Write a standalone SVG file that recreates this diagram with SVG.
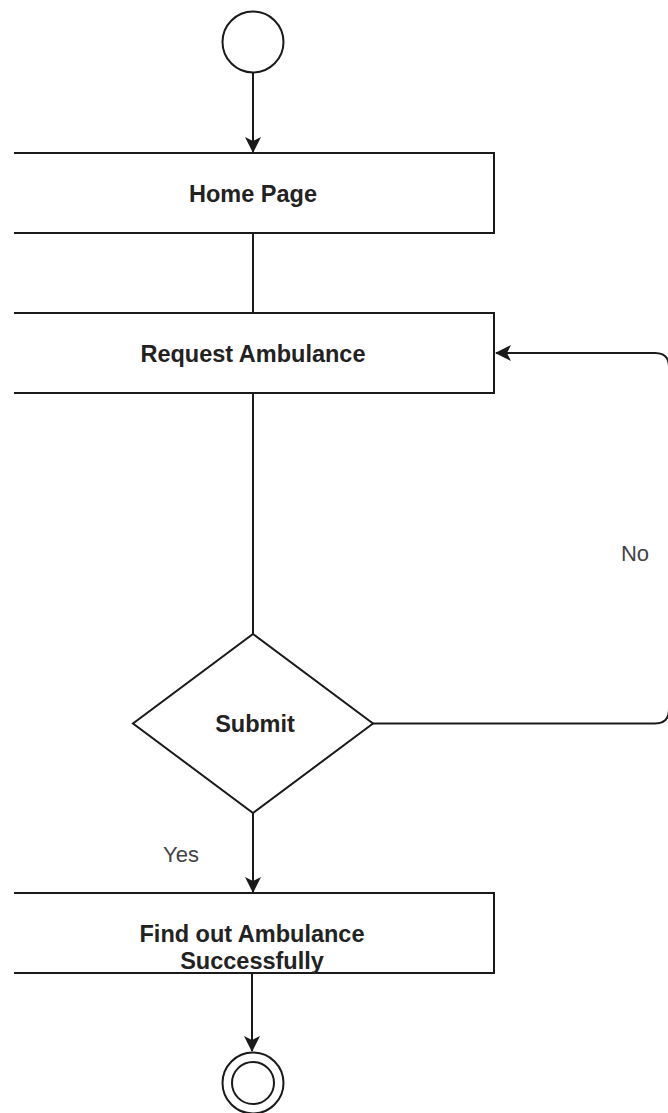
<svg xmlns="http://www.w3.org/2000/svg" width="668" height="1113" viewBox="0 0 668 1113">
<style>
.shape{fill:#ffffff;stroke:#1a1a1a;stroke-width:2}
.edge{fill:none;stroke:#1a1a1a;stroke-width:2}
.lbl{font-family:"Liberation Sans",Arial,sans-serif;font-size:23.5px;font-weight:bold;fill:#222222;text-anchor:middle}
.elbl{font-family:"Liberation Sans",Arial,sans-serif;font-size:22px;fill:#444444;text-anchor:middle}
</style>
<defs>
<marker id="arr" viewBox="0 0 16 16" refX="15" refY="8" markerWidth="16" markerHeight="16" markerUnits="userSpaceOnUse" orient="auto">
<path d="M0,0 L16,8 L0,16 L4,8 Z" fill="#1a1a1a"/>
</marker>
</defs>
<rect width="668" height="1113" fill="#ffffff"/>
<g id="connectors">
<line class="edge" x1="253" y1="73" x2="253" y2="152" marker-end="url(#arr)"/>
<line class="edge" x1="253" y1="233" x2="253" y2="313"/>
<line class="edge" x1="253" y1="393" x2="253" y2="634"/>
<path class="edge" d="M373,723.5 L655,723.5 Q669,723.5 669,709 L669,367 Q669,353 655,353 L496,353" marker-end="url(#arr)"/>
<line class="edge" x1="253" y1="813" x2="253" y2="892" marker-end="url(#arr)"/>
<line class="edge" x1="252" y1="973" x2="252" y2="1051" marker-end="url(#arr)"/>
<text class="elbl" x="181" y="862">Yes</text>
<text class="elbl" x="635" y="561">No</text>
</g>
<g id="start">
<circle class="shape" cx="253" cy="42" r="30.5"/>
</g>
<g id="home">
<path class="shape" d="M14,153 L494,153 L494,233 L14,233"/>
<text class="lbl" x="253" y="201.5">Home Page</text>
</g>
<g id="request">
<path class="shape" d="M14,313 L494,313 L494,393 L14,393"/>
<text class="lbl" x="253" y="361.5">Request Ambulance</text>
</g>
<g id="submit">
<polygon class="shape" points="253,634 373,723.5 253,813 133,723.5"/>
<text class="lbl" x="255" y="731.5">Submit</text>
</g>
<g id="find">
<path class="shape" d="M14,893 L494,893 L494,973 L14,973"/>
<text class="lbl" x="252" y="941.5">Find out Ambulance</text>
<text class="lbl" x="252" y="968.5">Successfully</text>
</g>
<g id="end">
<circle class="shape" cx="253" cy="1083" r="30.5"/>
<circle class="shape" cx="253" cy="1083" r="21"/>
</g>
</svg>
